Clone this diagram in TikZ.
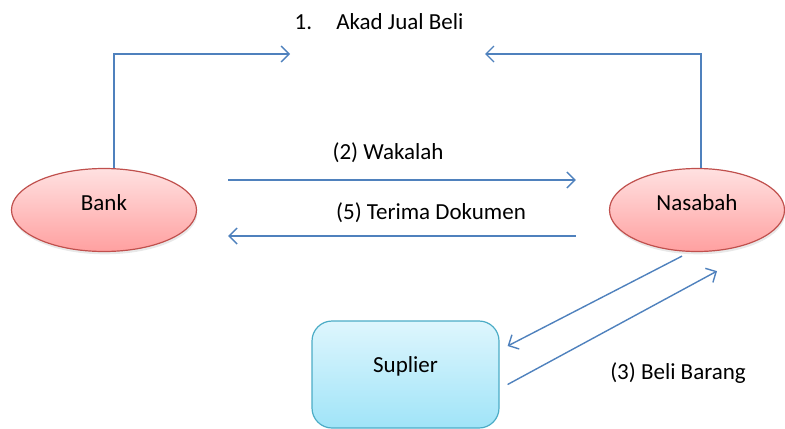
\documentclass[tikz,border=0pt]{standalone}
\usepackage{fontspec}
\setmainfont{Carlito}
\usetikzlibrary{arrows.meta, shapes.geometric, shadows}

\definecolor{garis}{RGB}{79,129,189}
\definecolor{merahtepi}{RGB}{192,80,77}
\definecolor{merahatas}{RGB}{255,225,225}
\definecolor{merahbawah}{RGB}{255,160,160}
\definecolor{birutepi}{RGB}{75,172,198}
\definecolor{biruatas}{RGB}{222,246,253}
\definecolor{birubawah}{RGB}{160,228,248}

\begin{document}
\begin{tikzpicture}[x=0.5pt, y=-0.5pt, font=\fontsize{11.5}{14}\selectfont,
    panah/.style={draw=garis, line width=0.7pt, -{Straight Barb[length=4pt,width=8pt]}},
    pihak/.style={ellipse, draw=merahtepi, line width=0.6pt, top color=merahatas,
        bottom color=merahbawah, minimum height=41.5pt, text depth=7pt,
        drop shadow={opacity=0.18, shadow xshift=0.4pt, shadow yshift=-1.4pt}},
    toko/.style={rectangle, rounded corners=10pt, draw=birutepi, line width=0.6pt,
        top color=biruatas, bottom color=birubawah, minimum width=93.5pt,
        minimum height=53.5pt, text depth=10pt},
    ket/.style={inner sep=1pt}]
    \useasboundingbox (0,0) rectangle (785,428);

    % pihak-pihak
    \node[pihak, minimum width=92.5pt] (bank) at (104,210) {Bank};
    \node[pihak, minimum width=87.5pt] (nasabah) at (697,210) {Nasabah};
    \node[toko] (suplier) at (405.5,374.5) {Suplier};

    % akad
    \coordinate (akadkiri) at (290,54);
    \coordinate (akadkanan) at (485,54);
    \node[ket] (akad) at (379,22) {1.\hspace{1.05em}Akad Jual Beli};
    \draw[panah] ([xshift=5pt]bank.north) |- (akadkiri);
    \draw[panah] ([xshift=2pt]nasabah.north) |- (akadkanan);

    % wakalah dan dokumen
    \draw[panah] ([xshift=15.5pt,yshift=15pt]bank.east) -- ([xshift=-16.5pt,yshift=15pt]nasabah.west);
    \draw[panah] ([xshift=-16.5pt,yshift=-13pt]nasabah.west) -- ([xshift=15.5pt,yshift=-13pt]bank.east);
    \node[ket] (wakalah) at (388,153) {(2) Wakalah};
    \node[ket] (dokumen) at (431,213) {(5) Terima Dokumen};

    % beli barang
    \draw[panah] ([xshift=-7.5pt,yshift=-2pt]nasabah.south) -- ([xshift=4pt,yshift=14.25pt]suplier.east);
    \draw[panah] ([xshift=4pt,yshift=-5pt]suplier.east) -- ([xshift=10pt,yshift=-9.5pt]nasabah.south);
    \node[ket] (beli) at (678,373) {(3) Beli Barang};
\end{tikzpicture}
\end{document}
